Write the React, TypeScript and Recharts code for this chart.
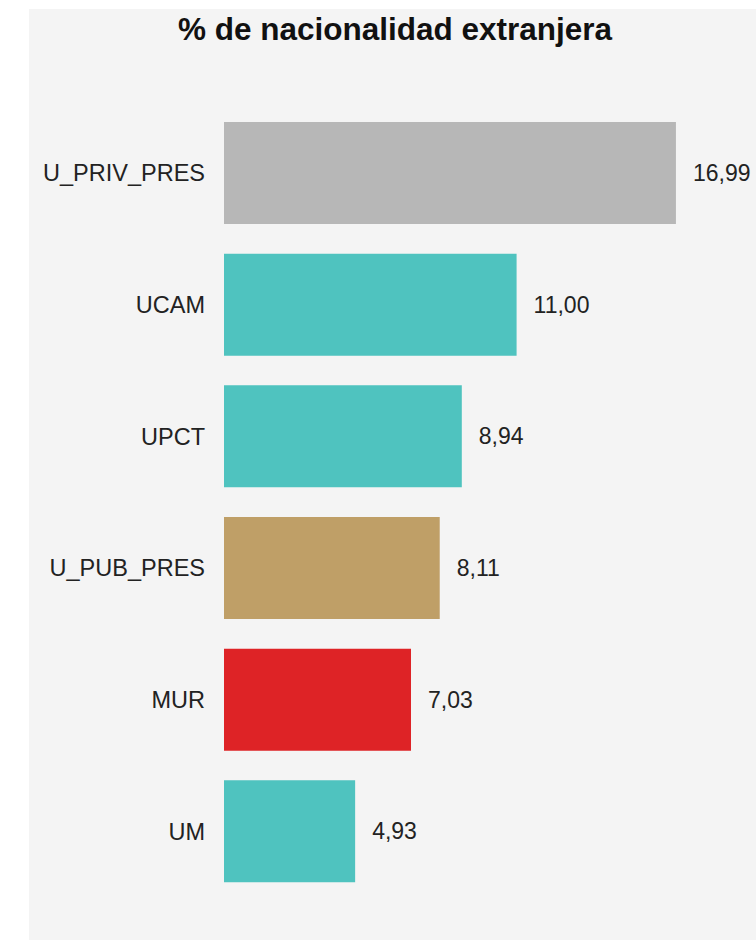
import React from "react";
import { BarChart, Bar, XAxis, YAxis, Cell, LabelList } from "recharts";

const categories = ["U_PRIV_PRES", "UCAM", "UPCT", "U_PUB_PRES", "MUR", "UM"];
const values = [16.99, 11.0, 8.94, 8.11, 7.03, 4.93];
const colors = ["#b7b7b7", "#4fc3bf", "#4fc3bf", "#bf9f67", "#de2326", "#4fc3bf"];

const data = categories.map((c, i) => ({ name: c, value: values[i], color: colors[i] }));

const FONT = "'Liberation Sans', Arial, Helvetica, sans-serif";

export default function App() {
  return (
    <div
      style={{
        position: "absolute",
        left: 29,
        top: 9,
        width: 727,
        height: 931,
        background: "#f4f4f4",
        fontFamily: FONT,
      }}
    >
      <div
        style={{
          position: "absolute",
          left: 0,
          width: 732,
          top: 2,
          textAlign: "center",
          fontSize: 31.5,
          fontWeight: "bold",
          color: "#111",
          lineHeight: "36px",
        }}
      >
        % de nacionalidad extranjera
      </div>
      <BarChart
        width={727}
        height={931}
        data={data}
        layout="vertical"
        margin={{ top: 98, right: 0, bottom: 43, left: 0 }}
        barSize={102}
        style={{ position: "absolute", left: 0, top: 0 }}
      >
        <XAxis type="number" domain={[0, 20]} hide />
        <YAxis
          type="category"
          dataKey="name"
          width={195}
          axisLine={false}
          tickLine={false}
          tickSize={0}
          tickMargin={19}
          tick={{ fill: "#222", fontSize: 23.5, fontFamily: FONT }}
        />
        <Bar dataKey="value" isAnimationActive={false}>
          {data.map((d, i) => (
            <Cell key={i} fill={d.color} />
          ))}
          <LabelList
            dataKey="value"
            position="right"
            offset={17}
            formatter={(v: any) => Number(v).toFixed(2).replace(".", ",")}
            style={{ fill: "#222", fontSize: 23, fontFamily: FONT }}
          />
        </Bar>
      </BarChart>
    </div>
  );
}
